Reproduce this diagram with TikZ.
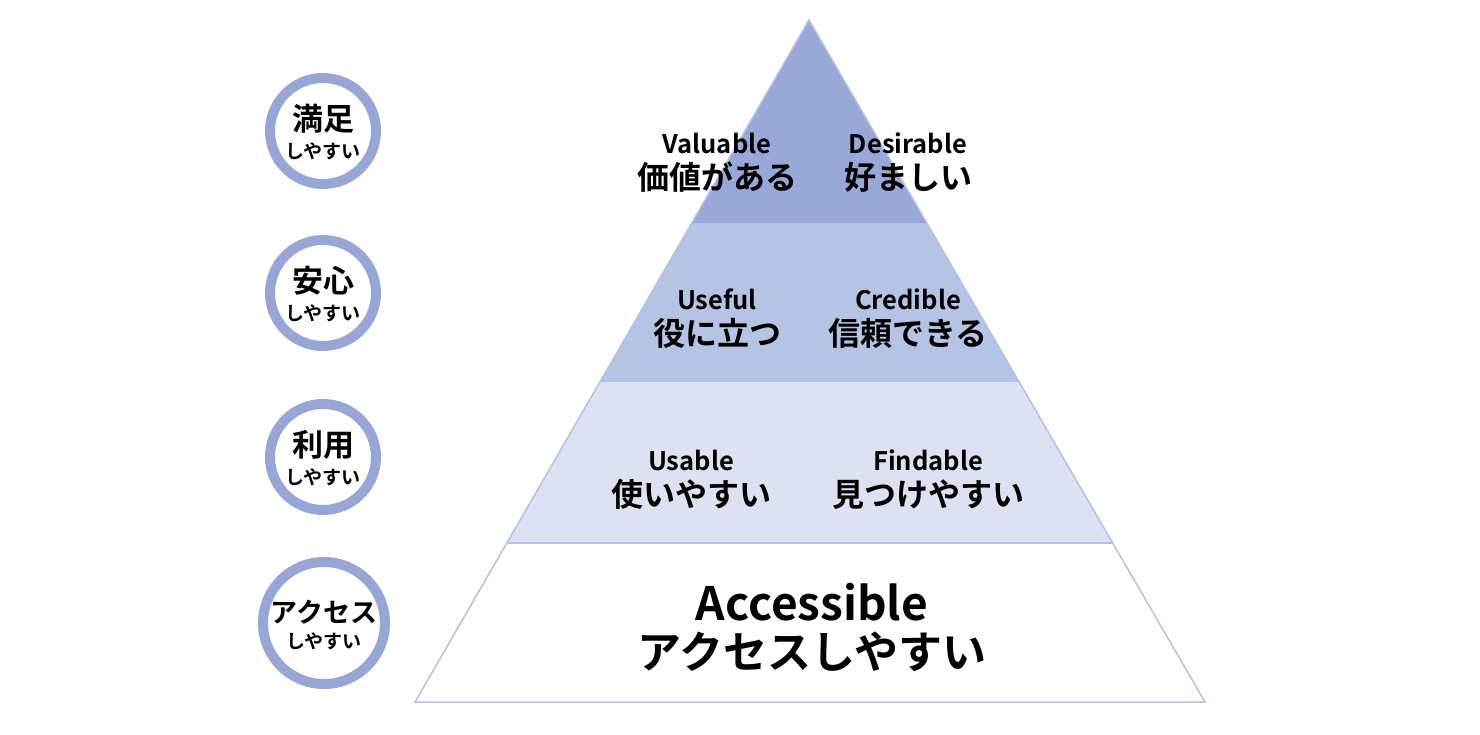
\documentclass[tikz,border=0pt]{standalone}
\usepackage{fontspec}
\setmainfont{Noto Sans CJK JP}[BoldFont={Noto Sans CJK JP Bold}]
\usetikzlibrary{positioning,calc}

\definecolor{lvlA}{HTML}{99A8D7}
\definecolor{lvlB}{HTML}{B5C3E5}
\definecolor{lvlC}{HTML}{DCE2F2}
\definecolor{ringc}{HTML}{97A6D5}
\definecolor{edgec}{HTML}{B4C2E6}

\tikzset{
  ring/.style={draw=ringc, line width=10pt, circle, fill=white, inner sep=0pt},
  ringbig/.style={inner sep=0pt, font=\fontsize{31}{31}\selectfont\bfseries},
  ringsmall/.style={inner sep=0pt, font=\fontsize{19}{19}\selectfont\bfseries},
  en/.style={inner sep=0pt, font=\fontsize{25.5}{25.5}\selectfont\bfseries, text height=19pt, text depth=0pt},
  ja/.style={inner sep=0pt, font=\fontsize{32}{32}\selectfont\bfseries, text height=28pt, text depth=4pt},
}

\begin{document}
\begin{tikzpicture}[x=1pt, y=-1pt, font=\bfseries, node distance=9pt]
  \useasboundingbox (0,0) rectangle (1480,735);

  \coordinate (apex) at (809,20);
  \coordinate (bl) at (415,702);
  \coordinate (br) at (1205,702);

  % layers of the pyramid
  \foreach \a/\b/\c in {0/0.2991/lvlA, 0.2991/0.5293/lvlB, 0.5293/0.7669/lvlC, 0.7669/1/white} {
    \fill[\c] ($(apex)!\a!(bl)$) -- ($(apex)!\b!(bl)$) -- ($(apex)!\b!(br)$) -- ($(apex)!\a!(br)$) -- cycle;
  }
  \foreach \b in {0.2991, 0.5293, 0.7669} {
    \draw[edgec, line width=1.5pt] ($(apex)!\b!(bl)$) -- ($(apex)!\b!(br)$);
  }
  \draw[edgec, line width=1.5pt] (apex) -- (bl) -- (br) -- cycle;

  % labels
  \foreach \n/\x/\y/\e/\j in {val/717/144/Valuable/価値がある, des/908/144/Desirable/好ましい,
      usef/717/300/Useful/役に立つ, cred/908/300/Credible/信頼できる,
      usab/691/461/Usable/使いやすい, find/928/461/Findable/見つけやすい} {
    \node[en] (\n) at (\x,\y) {\e};
    \node[ja] (\n j) [below=8pt of \n] {\j};
  }
  \node[en, font=\fontsize{46}{46}\selectfont\bfseries, text height=34pt] (acc) at (812,603) {Accessible};
  \node[ja, font=\fontsize{44}{44}\selectfont\bfseries, text height=38pt, text depth=6pt] (accj) [below=10pt of acc] {アクセスしやすい};

  % circles on the left
  \foreach \n/\y/\t in {sat/131/満足, safe/293/安心, use/457/利用} {
    \node[ring, minimum size=106pt] (c\n) at (323,\y) {};
    \node[ringbig] (c\n t) at ([yshift=12pt] c\n.center) {\t};
    \node[ringsmall] (c\n s) at ([yshift=-20pt] c\n.center) {しやすい};
  }
  \node[ring, minimum size=122pt] (cacc) at (324,623) {};
  \node[ringbig, font=\fontsize{27}{27}\selectfont\bfseries] (cacc t) at ([yshift=11pt] cacc.center) {アクセス};
  \node[ringsmall] (cacc s) at ([yshift=-18pt] cacc.center) {しやすい};

\end{tikzpicture}
\end{document}
